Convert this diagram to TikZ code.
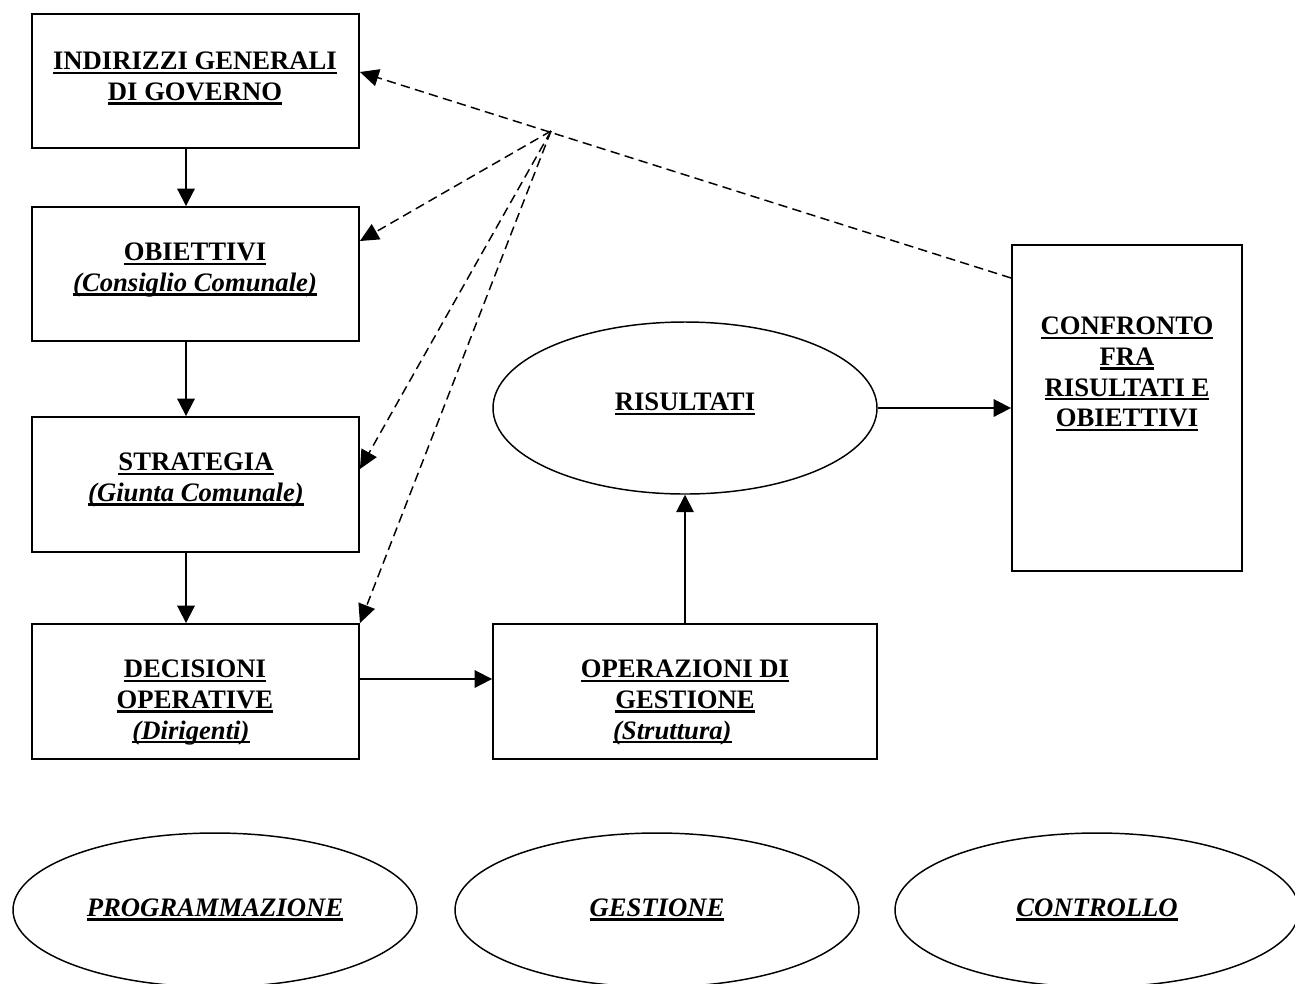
\documentclass[tikz,border=0pt]{standalone}
\usepackage{fontspec}
\setmainfont{Liberation Serif}
\usepackage{tikz}
\usetikzlibrary{arrows.meta,shapes.geometric}

% underline at a fixed depth, as the word processor does
\newcommand{\sott}[1]{\setbox0\hbox{#1}\rlap{\rule[-3pt]{\wd0}{1.8pt}}\box0}

\begin{document}
\begin{tikzpicture}[x=0.75pt,y=0.75pt,yscale=-1,xscale=1,
  box/.style={draw, line width=1.4pt, rectangle, inner sep=0pt},
  oval/.style={draw, line width=1.1pt, ellipse, inner sep=0pt},
  txt/.style={anchor=north, inner sep=0pt, align=center, font=\fontsize{20}{23}\selectfont\bfseries},
  arr/.style={line width=1.4pt, -{Triangle[length=13pt,width=13pt]}},
  dasharr/.style={line width=1.1pt, dash pattern=on 7pt off 4pt, -{Triangle[length=14pt,width=13pt]}}]
\useasboundingbox (0,0) rectangle (1295,983);

%Boxes of the left column
\node[box, minimum width=245.25pt, minimum height=100.5pt] (ind) at (195.5,81) {};
\node[box, minimum width=245.25pt, minimum height=100.5pt] (obi) at (195.5,274) {};
\node[box, minimum width=245.25pt, minimum height=101.25pt] (str) at (195.5,484.5) {};
\node[box, minimum width=245.25pt, minimum height=101.25pt] (dec) at (195.5,691.5) {};
%Management and results
\node[box, minimum width=288pt, minimum height=101.25pt] (ope) at (685,691.5) {};
\node[oval, minimum width=288pt, minimum height=129pt] (ris) at (685,408) {};
\node[box, minimum width=172.5pt, minimum height=244.5pt] (con) at (1127,408) {};

% Text Node
\node[txt] (ind-t) at (195,52) {\sott{INDIRIZZI GENERALI}\\\sott{DI GOVERNO}};
% Text Node
\node[txt] (obi-t) at (195,243) {\sott{OBIETTIVI}\\\sott{\itshape (Consiglio Comunale)}};
% Text Node
\node[txt] (str-t) at (196,453) {\sott{STRATEGIA}\\\sott{\itshape (Giunta Comunale)}};
% Text Node
\node[txt] (dec-t) at (195,660) {\sott{DECISIONI}\\\sott{OPERATIVE}\\\sott{\itshape (Dirigenti)}\hspace*{6pt}};
% Text Node
\node[txt] (ope-t) at (685,660) {\sott{OPERAZIONI DI}\\\sott{GESTIONE}\\\sott{\itshape (Struttura)}\hspace*{19pt}};
% Text Node
\node[txt] (ris-t) at (685,393) {\sott{RISULTATI}};
% Text Node
\node[txt] (con-t) at (1127,317) {\sott{CONFRONTO}\\\sott{FRA}\\\sott{RISULTATI E}\\\sott{OBIETTIVI}};

%Phases at the bottom
\node[oval, minimum width=303pt, minimum height=115.5pt, font=\fontsize{20}{23}\selectfont\bfseries\itshape] (prog) at (215,910) {\sott{PROGRAMMAZIONE}};
\node[oval, minimum width=303pt, minimum height=115.5pt, font=\fontsize{20}{23}\selectfont\bfseries\itshape] (gest) at (657,910) {\sott{GESTIONE}};
\node[oval, minimum width=303pt, minimum height=115.5pt, font=\fontsize{20}{23}\selectfont\bfseries\itshape] (cont) at (1097,910) {\sott{CONTROLLO}};

%Straight Lines
\draw[arr] (ind.south -| 186,0) -- (obi.north -| 186,0);
\draw[arr] (obi.south -| 186,0) -- (str.north -| 186,0);
\draw[arr] (str.south -| 186,0) -- (dec.north -| 186,0);
\draw[arr] (dec.east |- 0,679) -- (ope.west |- 0,679);
\draw[arr] (ope.north) -- (ris.south);
\draw[arr] (ris.east) -- (ris.east -| con.west);

%Dashed feedback lines
\coordinate (hub) at (551,131);
\draw[dasharr] (con.west |- 0,278) -- (ind.east |- 0,72);
\draw[dasharr] (hub) -- (obi.east |- 0,241);
\draw[dasharr] (hub) -- (str.east |- 0,469);
\draw[dasharr] (hub) -- (dec.north east);

\end{tikzpicture}
\end{document}
